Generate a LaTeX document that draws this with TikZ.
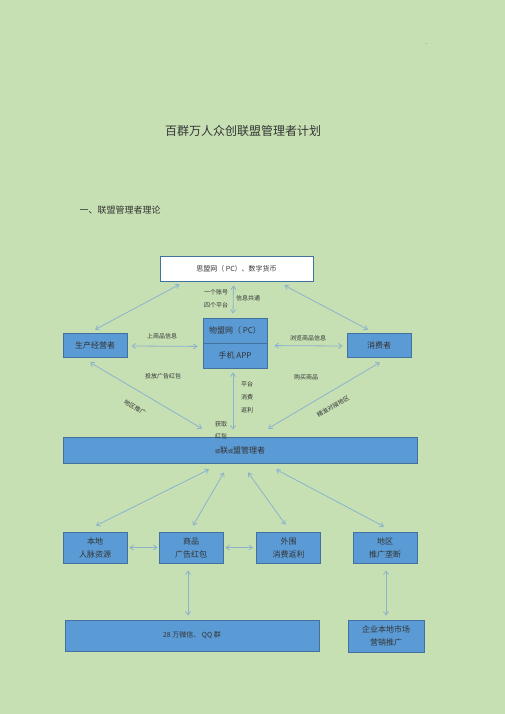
\documentclass[tikz,border=0pt]{standalone}
\usepackage{fontspec}
\setmainfont{Noto Sans CJK SC}
\usetikzlibrary{arrows.meta,calc}

\definecolor{pagegreen}{HTML}{C6E0B4}
\definecolor{boxblue}{HTML}{5B9BD5}
\definecolor{boxedge}{HTML}{41719C}
\definecolor{linkblue}{HTML}{8DB3CC}
\definecolor{inkgray}{HTML}{333333}

\begin{document}
\begin{tikzpicture}[
    x=1pt, y=-1pt,
    font=\fontsize{8}{13}\selectfont,
    text=inkgray,
    blue box/.style={draw=boxedge, fill=boxblue, line width=0.8pt, inner sep=0pt, align=center},
    link/.style={{Straight Barb[length=3.5pt,width=5pt]}-{Straight Barb[length=3.5pt,width=5pt]}, linkblue, line width=0.8pt},
    note/.style={font=\fontsize{6}{13}\selectfont, align=center},
]

% Page background
\fill[pagegreen] (0,0) rectangle (505,714);
\useasboundingbox (0,0) rectangle (505,714);

% Header texts
\node[font=\fontsize{4}{4}\selectfont] (dots) at (426,44) {..};
\node[font=\fontsize{12}{14}\selectfont] (title) at (243,131) {百群万人众创联盟管理者计划};
\node[font=\fontsize{9}{11}\selectfont, anchor=west] (heading) at (76,210) {一、联盟管理者理论};

% Top platform box
\node[blue box, fill=white, minimum width=153pt, minimum height=25pt, font=\fontsize{7}{9}\selectfont] (net) at (236.5,268.5) {思盟网（ PC）、数字货币};

% Middle row
\node[blue box, minimum width=64pt, minimum height=24pt] (maker) at (95,345) {生产经营者};
\node[blue box, minimum width=64pt, minimum height=25pt] (wumeng) at (235,330.5) {物盟网（ PC）};
\node[blue box, minimum width=64pt, minimum height=25pt] (app) at (235,355.5) {手机 APP};
\node[blue box, minimum width=64pt, minimum height=24pt] (buyer) at (379,345) {消费者};

% Manager bar
\node[blue box, minimum width=354pt, minimum height=26pt] (manager) at (240,450) {{\fontsize{5}{6}\selectfont 城}联{\fontsize{5}{6}\selectfont 城}盟管理者};

% Bottom row
\node[blue box, minimum width=64pt, minimum height=31pt] (local) at (95,547.5) {本地\\人脉资源};
\node[blue box, minimum width=64pt, minimum height=31pt] (goods) at (191,547.5) {商品\\广告红包};
\node[blue box, minimum width=64pt, minimum height=31pt] (outer) at (288.5,547.5) {外围\\消费返利};
\node[blue box, minimum width=64pt, minimum height=31pt] (region) at (385,547.5) {地区\\推广垄断};

% Lowest boxes
\node[blue box, minimum width=254pt, minimum height=31pt, font=\fontsize{7}{9}\selectfont] (wechat) at (192,635.5) {28 万微信、 QQ 群};
\node[blue box, minimum width=76pt, minimum height=32pt] (firm) at (386,636) {企业本地市场\\营销推广};

% Links around the platform
\draw[link] ($(net.south)+(-3,4)$) -- ($(wumeng.north)+(-2,-4)$);
\draw[link] ($(net.south west)+(20,3)$) -- ($(maker.north)+(0,-3)$);
\draw[link] ($(net.south east)+(-29,4)$) -- ($(buyer.north)+(-11,-3)$);
\draw[link] ($(maker.east)+(4,1)$) -- ($(wumeng.south west)+(-5,3)$);
\draw[link] ($(app.north east)+(7,3)$) -- ($(buyer.west)+(-4,1)$);

% Links down to the manager bar
\draw[link] ($(app.south)+(-2,4)$) -- ($(manager.north)+(-7,-7)$);
\draw[link] ($(maker.south)+(-5,5)$) -- ($(manager.north)+(-38,-8)$);
\draw[link] ($(buyer.south)+(1,5)$) -- ($(manager.north)+(28,-8)$);

% Links from the manager bar
\draw[link] ($(manager.south)+(-31,6)$) -- ($(local.north)+(1,-6)$);
\draw[link] ($(manager.south)+(-16,9)$) -- ($(goods.north)+(2,-6)$);
\draw[link] ($(manager.south)+(8,9)$) -- ($(outer.north)+(-3,-7)$);
\draw[link] ($(manager.south)+(36,6)$) -- ($(region.north)+(-1,-5)$);
\draw[link] ($(local.east)+(2,0)$) -- ($(goods.west)+(-1,0)$);
\draw[link] ($(goods.east)+(2,0)$) -- ($(outer.west)+(-3,0)$);
\draw[link] ($(goods.south)+(-3,7)$) -- ($(wechat.north)+(-4,-4)$);
\draw[link] ($(region.south)+(1,7)$) -- ($(firm.north)+(0,-4)$);

% Link labels
\node[note] (account) at (216,298.5) {一个账号\\四个平台};
\node[note] (share) at (248,298) {信息共通};
\node[note] (upload) at (162,336) {上商品信息};
\node[note] (browse) at (308,338) {浏览商品信息};
\node[note] (advert) at (163,376) {投放广告红包};
\node[note] (purchase) at (306,377) {购买商品};
\node[note, align=left] (rebate) at (247,397.5) {平台\\消费\\返利};
\node[note, font=\fontsize{6}{12}\selectfont] (redpack) at (221,430) {获取\\红包};
\node[note, rotate=-30] (promote) at (135,408) {地区推广};
\node[note, rotate=30] (match) at (333,407) {精准对接地区};

\end{tikzpicture}
\end{document}
